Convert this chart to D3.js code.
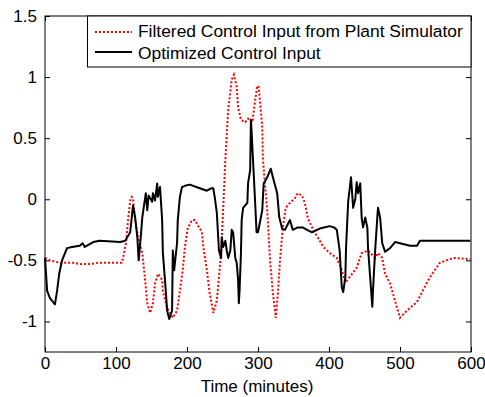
<!DOCTYPE html>
<html>
<head>
<meta charset="utf-8">
<script src="https://cdn.jsdelivr.net/npm/d3@7"></script>
<style>
  html, body { margin: 0; padding: 0; background: #fff; }
  svg { display: block; font-family: "Liberation Sans", Arial, sans-serif; }
</style>
</head>
<body>
<svg id="chart" width="485" height="397"></svg>
<script>
// values: [time (min), input]
const filteredInput = [
  [0,-0.48],[7,-0.50],[21,-0.52],[39,-0.52],[50,-0.53],[63,-0.53],[75,-0.52],[87,-0.52],[108,-0.52],
  [110,-0.48],[114,-0.36],[117,-0.17],[120,-0.01],[122,0.02],[124,0.01],[127,-0.17],[131,-0.31],
  [137,-0.44],[141,-0.66],[144,-0.85],[148,-0.93],[152,-0.85],[155,-0.69],[159,-0.61],[165,-0.66],
  [166,-0.75],[172,-0.89],[176,-0.93],[180,-0.97],[186,-0.91],[190,-0.75],[194,-0.58],[197,-0.39],
  [201,-0.24],[207,-0.17],[211,-0.17],[215,-0.21],[221,-0.27],[223,-0.39],[228,-0.58],[232,-0.77],
  [237,-0.93],[242,-0.83],[245,-0.64],[248,-0.44],[250,-0.20],[254,0.32],[258,0.73],[263,0.98],
  [266,1.02],[270,0.92],[272,0.75],[276,0.65],[282,0.63],[286,0.66],[292,0.63],[296,0.81],
  [299,0.93],[301,0.92],[306,0.59],[307,0.32],[313,-0.09],[317,-0.50],[321,-0.77],[325,-0.97],
  [328,-0.77],[331,-0.50],[335,-0.23],[339,-0.07],[345,-0.03],[352,0.01],[356,0.05],[362,0.03],
  [366,-0.03],[370,-0.15],[376,-0.23],[383,-0.30],[392,-0.39],[401,-0.44],[411,-0.48],[418,-0.58],
  [423,-0.68],[430,-0.63],[439,-0.56],[446,-0.44],[455,-0.42],[465,-0.48],[469,-0.44],[475,-0.48],
  [479,-0.61],[486,-0.69],[493,-0.83],[500,-0.97],[510,-0.91],[524,-0.84],[532,-0.75],[542,-0.64],
  [556,-0.52],[575,-0.48],[599,-0.49]
];

const optimizedInput = [
  [0,-0.48],[3,-0.75],[7,-0.81],[14,-0.86],[17,-0.75],[20,-0.61],[24,-0.50],[31,-0.40],[38,-0.39],
  [49,-0.38],[53,-0.36],[56,-0.39],[68,-0.35],[77,-0.34],[106,-0.35],[113,-0.34],[120,-0.27],
  [124,-0.05],[127,-0.15],[130,-0.31],[132,-0.50],[135,-0.30],[137,-0.15],[138,-0.11],[142,0.05],
  [144,-0.09],[146,0.03],[151,-0.02],[152,0.05],[155,-0.01],[158,0.13],[159,0.02],[162,0.10],
  [165,-0.17],[166,-0.44],[169,-0.66],[172,-0.91],[175,-0.98],[179,-0.91],[180,-0.42],[182,-0.58],
  [183,-0.52],[186,-0.36],[187,-0.17],[190,0.02],[193,0.10],[197,0.11],[204,0.12],[218,0.09],
  [228,0.07],[234,0.09],[237,0.09],[239,0.02],[242,-0.11],[245,-0.42],[248,-0.48],[249,-0.31],
  [251,-0.39],[254,-0.34],[256,-0.42],[258,-0.48],[261,-0.42],[263,-0.25],[265,-0.27],[268,-0.48],
  [270,-0.52],[272,-0.66],[273,-0.85],[274,-0.75],[276,-0.44],[277,-0.17],[279,-0.07],[285,-0.03],
  [286,0.13],[289,0.24],[290,0.65],[291,0.55],[293,0.32],[296,-0.03],[298,-0.27],[300,-0.27],
  [306,-0.09],[308,0.13],[313,0.18],[318,0.25],[321,0.18],[327,0.05],[330,-0.15],[334,-0.24],
  [338,-0.25],[345,-0.17],[349,-0.25],[356,-0.23],[363,-0.23],[369,-0.25],[376,-0.27],[387,-0.24],
  [401,-0.22],[407,-0.23],[411,-0.25],[415,-0.42],[418,-0.72],[420,-0.76],[423,-0.64],[424,-0.40],
  [427,-0.02],[431,0.18],[432,0.10],[434,-0.07],[437,0.00],[439,0.14],[441,0.05],[444,0.13],
  [446,-0.15],[448,-0.23],[451,-0.15],[454,-0.23],[455,-0.40],[458,-0.64],[461,-0.88],[462,-0.74],
  [465,-0.42],[468,-0.15],[469,-0.07],[472,-0.15],[475,-0.36],[479,-0.43],[486,-0.40],[493,-0.35],
  [500,-0.36],[514,-0.38],[524,-0.38],[528,-0.34],[560,-0.34],[599,-0.34]
];

const xTicks = [0, 100, 200, 300, 400, 500, 600];
const yTicks = [-1, -0.5, 0, 0.5, 1, 1.5];
const legendLabels = ["Filtered Control Input from Plant Simulator", "Optimized Control Input"];
const xLabel = "Time (minutes)";

const svg = d3.select("#chart");
const plotLeft = 45, plotRight = 471, plotTop = 16, plotBottom = 352;

const x = d3.scaleLinear().domain([0, 600]).range([plotLeft, plotRight]);
const y = d3.scaleLinear().domain([-1.25, 1.5]).range([plotBottom, plotTop]);

// axes (MATLAB style: ticks inside, boxed)
svg.append("g")
  .attr("transform", `translate(0,${plotBottom})`)
  .call(d3.axisBottom(x).tickValues(xTicks).tickSizeInner(-5).tickSizeOuter(0).tickPadding(5))
  .call(g => g.select(".domain").remove());

svg.append("g")
  .attr("transform", `translate(${plotLeft},0)`)
  .call(d3.axisLeft(y).tickValues(yTicks).tickSizeInner(-5).tickSizeOuter(0).tickPadding(8)
    .tickFormat(d => String(d)))
  .call(g => g.select(".domain").remove());

// mirrored ticks on right and top
svg.append("g")
  .attr("transform", `translate(${plotRight},0)`)
  .call(d3.axisRight(y).tickValues(yTicks).tickSizeInner(-5).tickSizeOuter(0).tickFormat(""))
  .call(g => g.select(".domain").remove());

svg.append("g")
  .attr("transform", `translate(0,${plotTop})`)
  .call(d3.axisTop(x).tickValues(xTicks).tickSizeInner(-5).tickSizeOuter(0).tickFormat(""))
  .call(g => g.select(".domain").remove());

svg.selectAll(".tick text")
  .attr("font-size", 17)
  .attr("font-family", "'Liberation Sans', Arial, sans-serif")
  .attr("fill", "#000");
svg.selectAll(".tick line").attr("stroke", "#000");

svg.append("text")
  .attr("x", 257)
  .attr("y", 392)
  .attr("text-anchor", "middle")
  .attr("font-size", 17)
  .text(xLabel);

// lines
const line = d3.line().x(d => x(d[0])).y(d => y(d[1]));

svg.append("path")
  .datum(filteredInput)
  .attr("fill", "none")
  .attr("stroke", "#ff0000")
  .attr("stroke-width", 2)
  .attr("stroke-dasharray", "2,2")
  .attr("d", line);

svg.append("path")
  .datum(optimizedInput)
  .attr("fill", "none")
  .attr("stroke", "#000")
  .attr("stroke-width", 2)
  .attr("stroke-linejoin", "round")
  .attr("d", line);

// frame
svg.append("rect")
  .attr("x", plotLeft).attr("y", plotTop)
  .attr("width", plotRight - plotLeft).attr("height", plotBottom - plotTop)
  .attr("fill", "none").attr("stroke", "#000").attr("stroke-width", 1);

// legend
const lg = svg.append("g");
lg.append("rect")
  .attr("x", 87.5).attr("y", plotTop)
  .attr("width", plotRight - 87.5).attr("height", 51)
  .attr("fill", "#fff").attr("stroke", "#000").attr("stroke-width", 1);

const legendStyles = [
  { stroke: "#ff0000", dash: "2,2" },
  { stroke: "#000", dash: null }
];
legendLabels.forEach((label, i) => {
  const ly = 32 + i * 20;
  lg.append("line")
    .attr("x1", 95).attr("x2", 132).attr("y1", ly).attr("y2", ly)
    .attr("stroke", legendStyles[i].stroke)
    .attr("stroke-width", 2)
    .attr("stroke-dasharray", legendStyles[i].dash);
  lg.append("text")
    .attr("x", 138).attr("y", 37 + i * 22)
    .attr("font-size", 17.4)
    .text(label);
});
</script>
</body>
</html>
